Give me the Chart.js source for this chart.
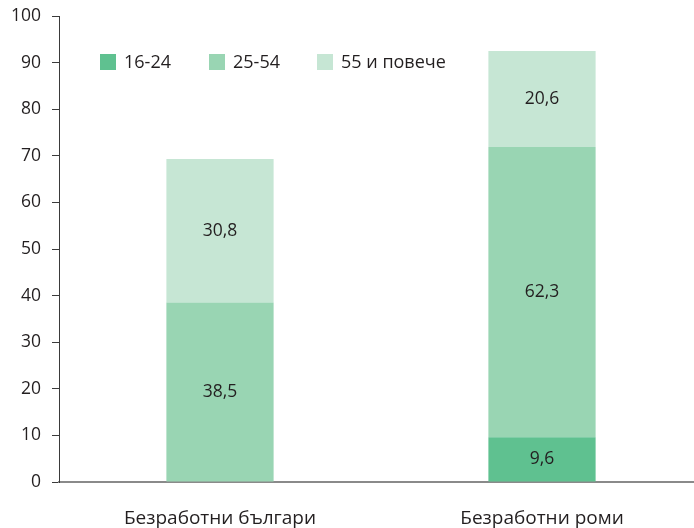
<!DOCTYPE html>
<html lang="bg">
<head>
  <meta charset="UTF-8" />
  <title>Безработни по възраст</title>
  <script src="https://cdn.jsdelivr.net/npm/chart.js"></script>
  <style>
    html, body { margin: 0; padding: 0; background: #fff; overflow: hidden; }
    .kutiya { width: 694px; height: 528px; overflow: hidden; }
  </style>
</head>
<body>
  <div class="kutiya">
    <canvas id="grafika" width="703" height="528"></canvas>
  </div>

  <script>
    const kategorii = ['Безработни българи', 'Безработни роми'];
    const grupi = ['16-24', '25-54', '55 и повече'];
    const mladi = [null, 9.6];
    const sredni = [38.5, 62.3];
    const vazrastni = [30.8, 20.6];
    const tikove = [0, 10, 20, 30, 40, 50, 60, 70, 80, 90, 100];

    const tsvetove = ['#5fc190', '#99d5b3', '#c6e6d4'];
    const shrift = "'Open Sans', 'Noto Sans', sans-serif";
    const tekstTsvyat = '#231f20';

    // етикети в средата на всеки сегмент
    const etiketi = {
      id: 'etiketi',
      afterDatasetsDraw(chart) {
        const ctx = chart.ctx;
        ctx.save();
        ctx.font = '17.5px ' + shrift;
        ctx.fillStyle = tekstTsvyat;
        ctx.textAlign = 'center';
        ctx.textBaseline = 'middle';
        chart.data.datasets.forEach((ds, i) => {
          chart.getDatasetMeta(i).data.forEach((bar, j) => {
            const v = ds.data[j];
            if (v == null) return;
            const y = (bar.y + bar.base) / 2;
            ctx.fillText(String(v).replace('.', ','), bar.x, y);
          });
        });
        ctx.restore();
      }
    };

    // легенда вътре в графиката
    const legenda = {
      id: 'legenda',
      afterDraw(chart) {
        const ctx = chart.ctx;
        const xs = [100, 209, 317];
        const y = 62;
        ctx.save();
        ctx.font = '18px ' + shrift;
        ctx.textBaseline = 'middle';
        chart.data.datasets.forEach((ds, i) => {
          ctx.fillStyle = ds.backgroundColor;
          ctx.fillRect(xs[i], y - 8, 16, 16);
          ctx.fillStyle = tekstTsvyat;
          ctx.fillText(ds.label, xs[i] + 24, y + 1);
        });
        ctx.restore();
      }
    };

    new Chart(document.getElementById('grafika'), {
      type: 'bar',
      data: {
        labels: kategorii,
        datasets: [
          { label: grupi[0], data: mladi, backgroundColor: tsvetove[0] },
          { label: grupi[1], data: sredni, backgroundColor: tsvetove[1] },
          { label: grupi[2], data: vazrastni, backgroundColor: tsvetove[2] }
        ]
      },
      options: {
        responsive: false,
        animation: false,
        devicePixelRatio: 1,
        layout: { padding: { top: 16, right: 0, bottom: 0, left: 0 } },
        datasets: { bar: { barPercentage: 0.333, categoryPercentage: 1 } },
        plugins: {
          legend: { display: false },
          tooltip: { enabled: false }
        },
        scales: {
          x: {
            stacked: true,
            afterFit(scale) { scale.height = 46; },
            grid: { display: false, drawTicks: false },
            border: { display: true, color: '#8a8a8a', width: 2 },
            ticks: { padding: 25, color: tekstTsvyat, font: { family: shrift, size: 19 } }
          },
          y: {
            stacked: true,
            min: 0,
            max: 100,
            afterBuildTicks(scale) {
              scale.ticks = tikove.map(v => ({ value: v }));
            },
            afterFit(scale) {
              scale.width = 59;
              scale.paddingTop = 0;
              scale.paddingBottom = 0;
            },
            grid: { drawOnChartArea: false, drawTicks: true, tickLength: 7, color: '#3a3a3a' },
            border: { display: true, color: '#3a3a3a', width: 1 },
            ticks: { padding: 11, color: tekstTsvyat, font: { family: shrift, size: 17.5 } }
          }
        }
      },
      plugins: [etiketi, legenda]
    });
  </script>
</body>
</html>
